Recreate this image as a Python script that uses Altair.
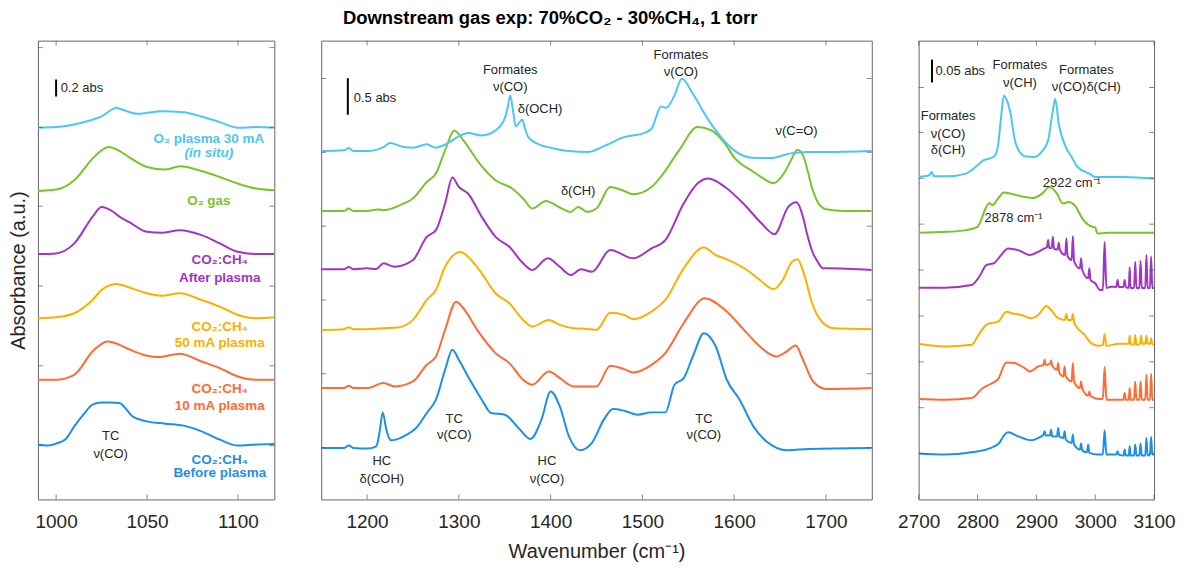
import altair as alt
import pandas as pd

FONT = "Liberation Sans"
TEXT_COLOR = "#262626"
SERIES = ["Before plasma", "10 mA plasma", "50 mA plasma", "After plasma", "O2 gas", "O2 plasma 30 mA"]
COLORS = ["#1E8FE6", "#FF6B35", "#F9B000", "#A035C4", "#78C42B", "#4CC6F6"]
Y_DOMAIN = [0, 460]  # stacked absorbance, arbitrary units

# ---------------- Left panel: 990-1120 cm-1 ----------------
L_BLUE = [(990, 55), (995, 54), (1000, 56), (1005, 60), (1010, 73.3), (1015, 85), (1020, 95), (1025, 97.3),
          (1030, 97.3), (1035, 96.7), (1038, 91.7), (1042, 83.3), (1050, 78.3), (1060, 76), (1070, 74),
          (1080, 68.3), (1090, 60), (1100, 54), (1110, 55), (1120, 55.5)]
L_ORANGE = [(990, 120), (1000, 120), (1010, 125), (1020, 148.3), (1025, 156), (1028, 158.3), (1035, 155),
            (1040, 150.7), (1050, 144), (1056, 142.7), (1068, 146), (1080, 138.3), (1090, 131.7), (1100, 123.3),
            (1110, 120), (1120, 120)]
L_YELLOW = [(990, 181.7), (1000, 182.7), (1010, 186.7), (1020, 200), (1025, 210), (1030, 215), (1033, 216),
            (1036, 215), (1040, 212.7), (1050, 206.7), (1058, 204.3), (1068, 206.7), (1080, 200), (1090, 193.3),
            (1100, 185), (1110, 181.7), (1120, 182.7)]
L_PURPLE = [(990, 246), (1000, 246.7), (1010, 256.7), (1020, 283.3), (1025, 293.3), (1030, 290), (1035, 283.3),
            (1040, 278.3), (1050, 268.3), (1058, 267.3), (1068, 270), (1080, 265), (1090, 256.7), (1100, 248.3),
            (1110, 246), (1120, 246)]
L_GREEN = [(990, 309.3), (1000, 310.7), (1010, 320), (1020, 341.7), (1025, 350), (1029, 353.3), (1035, 349.3),
           (1040, 343.3), (1050, 333.3), (1060, 330.7), (1068, 334), (1080, 329.3), (1090, 323.3), (1100, 316.7),
           (1110, 311.7), (1120, 310)]
L_LIGHTBLUE = [(990, 372.7), (1000, 373.3), (1010, 376), (1020, 380.7), (1025, 384), (1030, 390), (1033, 392.7),
               (1036, 391), (1045, 386.7), (1058, 389.3), (1070, 388.3), (1080, 384), (1090, 378.3), (1100, 372.7),
               (1110, 373.3), (1120, 372.7)]

# ---------------- Middle panel: 1150-1750 cm-1 ----------------
M_BLUE = [(1150, 51.7), (1175, 51.7), (1180, 54), (1185, 51.7), (1200, 51), (1210, 53.3), (1214, 70), (1217, 87.3),
          (1221, 70), (1226, 59.3), (1240, 63.3), (1255, 73.3), (1265, 86.7), (1275, 100), (1285, 130), (1293, 150),
          (1300, 140), (1310, 123.3), (1325, 100), (1335, 86.7), (1350, 85), (1365, 71.7), (1378, 60.7), (1390, 80),
          (1400, 108.3), (1410, 93.3), (1420, 63.3), (1432, 49.3), (1445, 56.7), (1458, 80), (1468, 90.7),
          (1480, 89), (1495, 85), (1510, 87.3), (1525, 87.3), (1535, 115), (1545, 121.7), (1555, 143.3),
          (1567, 166.7), (1580, 153.3), (1592, 120), (1606, 100), (1621, 73.3), (1635, 58.3), (1658, 49.3),
          (1681, 50.7), (1750, 51.7)]
M_ORANGE = [(1150, 111.7), (1175, 111.7), (1180, 114), (1185, 111.7), (1200, 111.7), (1218, 116.7), (1230, 113.3),
            (1250, 118.3), (1265, 135), (1275, 143.3), (1285, 170), (1297, 198.3), (1305, 191.7), (1320, 170),
            (1340, 146.7), (1355, 136.7), (1370, 120), (1380, 115), (1398, 128.3), (1410, 121.7), (1425, 113.3),
            (1450, 113.3), (1465, 134), (1480, 130.7), (1490, 127.3), (1510, 135), (1525, 146.7), (1545, 176.7),
            (1568, 201.7), (1590, 190), (1614, 166.7), (1628, 153.3), (1646, 143.3), (1657, 148.3), (1667, 154.3),
            (1675, 140), (1686, 118.3), (1701, 110.7), (1750, 111.7)]
M_YELLOW = [(1150, 170), (1175, 170.7), (1180, 172.7), (1185, 170.7), (1200, 170.7), (1218, 171.7), (1235, 172.7),
            (1250, 180), (1265, 200), (1275, 210), (1285, 233.3), (1302, 248), (1310, 243.3), (1325, 226.7),
            (1340, 206.7), (1355, 196.7), (1370, 180), (1380, 173.3), (1398, 180), (1410, 175), (1425, 171.7),
            (1440, 171), (1450, 170), (1465, 187.3), (1480, 185), (1490, 180.7), (1510, 188.3), (1525, 200),
            (1545, 231.7), (1567, 252.5), (1580, 245), (1592, 240.7), (1614, 230), (1628, 220), (1643, 210.7),
            (1653, 220), (1663, 238.3), (1669, 240.7), (1677, 223.3), (1685, 196.7), (1694, 180), (1708, 171.7),
            (1750, 170.7)]
M_PURPLE = [(1150, 230.7), (1175, 230.7), (1180, 233.3), (1185, 230.7), (1200, 231.7), (1210, 231), (1218, 236.7),
            (1230, 233.3), (1250, 240), (1265, 263.3), (1275, 270), (1285, 296.7), (1293, 322.7), (1300, 313.3),
            (1310, 306.7), (1325, 283.3), (1340, 263.3), (1355, 253.3), (1370, 236.7), (1380, 230), (1397, 241.7),
            (1410, 233.3), (1422, 225), (1433, 230.7), (1445, 228.3), (1465, 250), (1490, 241.7), (1510, 251.7),
            (1525, 260), (1545, 296.7), (1560, 316.7), (1572, 321.7), (1590, 313.3), (1610, 296.7), (1630, 276.7),
            (1644, 266), (1659, 293.3), (1668, 298), (1675, 283.3), (1679, 268), (1686, 246.7), (1690, 240),
            (1697, 231.7), (1701, 231.7), (1750, 230)]
M_GREEN = [(1150, 289.3), (1175, 289.3), (1180, 291.7), (1185, 289.3), (1200, 289.3), (1212, 290.7), (1218, 290),
           (1240, 296.7), (1250, 301.7), (1265, 318.3), (1275, 326.7), (1285, 350), (1295, 370), (1305, 360),
           (1320, 340), (1340, 320), (1358, 311.7), (1370, 301.7), (1380, 291.7), (1395, 299.3), (1410, 292.7),
           (1422, 288.3), (1430, 293.3), (1440, 288.3), (1450, 291.7), (1465, 313.3), (1480, 309.3), (1490, 306),
           (1510, 313.3), (1520, 323.3), (1540, 350), (1560, 373.3), (1575, 370), (1590, 356.7), (1600, 343),
           (1620, 329), (1630, 323), (1643, 317), (1655, 328), (1662, 340), (1669, 350.7), (1675, 345), (1680, 330),
           (1685, 312), (1690, 300), (1700, 291), (1720, 289.3), (1750, 289.3)]
M_LIGHTBLUE = [(1150, 349.3), (1175, 350), (1180, 352.3), (1185, 349.3), (1200, 349.3), (1218, 353.3), (1225, 357.3),
               (1240, 353.3), (1250, 352.7), (1265, 356), (1275, 352.7), (1290, 358.3), (1300, 364), (1310, 367.3),
               (1325, 365), (1340, 370), (1350, 382), (1353, 392), (1356, 405), (1359, 390), (1362, 374), (1366, 378),
               (1369, 381), (1372, 372), (1376, 363), (1390, 355), (1400, 352.7), (1420, 349.3), (1440, 348.3),
               (1460, 355), (1480, 363.3), (1500, 366.7), (1510, 371.7), (1515, 383.3), (1520, 394), (1526, 392.7),
               (1535, 405), (1543, 421.7), (1555, 406.7), (1570, 383.3), (1580, 370), (1600, 350), (1620, 342.5),
               (1640, 342.3), (1660, 346.7), (1680, 348.3), (1700, 348.3), (1750, 349.3)]

# ---------------- Right panel: 2700-3100 cm-1 ----------------
R_BLUE = [(2700, 46), (2744, 45), (2790, 47.3), (2823, 51.7), (2837, 56.7), (2846, 65), (2852, 67.3), (2869, 63.3),
          (2891, 59.3), (2903, 61.7), (2912, 65), (2914, 68.3), (2916, 64), (2923, 64), (2925, 70), (2927, 63),
          (2935, 63), (2937, 71.7), (2939, 63), (2946, 61.7), (2948, 68.3), (2950, 60), (2960, 56.7), (2962, 65),
          (2964, 55), (2974, 50), (2976, 56), (2978, 49), (2986, 47.3), (2988, 55), (2990, 46.7), (3005, 45),
          (3013, 45), (3016, 69.3), (3019, 45), (3036, 45), (3038, 48.3), (3040, 45), (3048, 44), (3050, 50),
          (3052, 44), (3057, 44), (3058.6, 53.3), (3060, 44), (3066, 44), (3068, 55), (3070, 44), (3075, 44),
          (3077, 56), (3079, 44), (3085, 44), (3087, 61.7), (3089, 44), (3093, 45), (3095, 62.7), (3097, 45),
          (3100, 45)]
R_ORANGE = [(2700, 100.7), (2744, 100), (2790, 101.7), (2809, 111.7), (2823, 116), (2835, 120.7), (2849, 137.3),
            (2863, 136.7), (2880, 131.7), (2889, 128.3), (2903, 133.3), (2912, 135), (2914, 140), (2916, 135),
            (2923, 136), (2925, 139.3), (2927, 134), (2935, 130), (2937, 136.7), (2939, 127), (2946, 123.3),
            (2948, 133.3), (2950, 123.3), (2960, 118.3), (2962, 136.7), (2964, 118), (2974, 111.7), (2976, 118.3),
            (2978, 111), (2988, 104), (2990, 108.3), (2992, 104), (3005, 100.7), (3013, 100.7), (3016, 132.7),
            (3019, 100), (3048, 100), (3050, 106.7), (3052, 100), (3057, 100), (3058.6, 111.7), (3060, 100),
            (3066, 100), (3068, 118.3), (3070, 100), (3075, 100), (3077, 118.3), (3079, 100), (3085, 100),
            (3087, 125), (3089, 100), (3093, 100), (3095, 126), (3097, 100), (3100, 100)]
R_YELLOW = [(2700, 156), (2744, 153.3), (2790, 155), (2800, 163.3), (2815, 175), (2823, 176.7), (2835, 178.3),
            (2849, 188.3), (2858, 186.7), (2874, 185), (2891, 181.7), (2903, 185), (2917, 194), (2925, 190),
            (2937, 181.7), (2948, 180), (2951, 186), (2953, 180), (2960, 180), (2962, 186), (2964, 178),
            (2968, 173.3), (2982, 165), (2993, 156.7), (3005, 154), (3013, 155), (3016, 166), (3019, 154),
            (3040, 156), (3057, 156), (3058.6, 164), (3060, 156), (3066, 155), (3068, 165), (3070, 155), (3076, 156),
            (3078, 164), (3080, 156), (3085, 156), (3087, 164), (3089, 156), (3093, 156), (3095, 161.7), (3097, 156),
            (3100, 155)]
R_PURPLE = [(2700, 212.3), (2744, 212.3), (2790, 215), (2803, 223.3), (2815, 235), (2829, 237.3), (2840, 245),
            (2852, 251.7), (2869, 250), (2889, 245), (2903, 248.3), (2914, 251.7), (2918, 253), (2920, 260),
            (2922, 252), (2926, 252), (2928, 263.3), (2930, 251), (2936, 250.7), (2938, 257.3), (2940, 250),
            (2949, 245), (2951, 261.7), (2953, 244), (2960, 240), (2962, 264), (2964, 239), (2974, 231.7),
            (2976, 241.7), (2978, 230), (2988, 221.7), (2990, 231.7), (2992, 220), (3000, 216.7), (3008, 210),
            (3013, 210), (3016, 258.3), (3019, 212), (3027, 213.3), (3036, 213), (3038, 220), (3040, 213),
            (3048, 213), (3050, 220), (3052, 213), (3057, 212), (3058.6, 232.7), (3060, 212), (3066, 212),
            (3068, 238.3), (3070, 212), (3075, 212), (3077, 239.3), (3079, 212), (3085, 212), (3087, 245),
            (3089, 212), (3093, 212), (3095, 243.3), (3097, 212), (3100, 212)]
R_GREEN = [(2700, 267.3), (2750, 268.3), (2780, 270), (2800, 273.3), (2815, 293.3), (2820, 297.3), (2825, 295),
           (2835, 301.7), (2845, 307.7), (2860, 306), (2880, 303.3), (2895, 302.3), (2910, 306.7), (2922, 313.3),
           (2935, 306.7), (2945, 296.7), (2955, 298.3), (2965, 295), (2980, 280), (2995, 273.3), (3000, 272.7),
           (3004, 266.7), (3020, 267.3), (3100, 267.3)]
R_LIGHTBLUE = [(2700, 323.3), (2710, 324), (2718, 325), (2722, 328.3), (2726, 324), (2750, 324), (2780, 326.7),
               (2800, 335), (2810, 340), (2820, 341.7), (2830, 345), (2836, 360), (2840, 383.3), (2845, 405),
               (2850, 400), (2855, 390), (2865, 356.7), (2880, 344), (2895, 343.3), (2910, 349.3), (2920, 360),
               (2928, 390), (2932, 401.7), (2938, 376.7), (2950, 353.3), (2960, 343.3), (2970, 333.3), (2990, 326.7),
               (3000, 323.3), (3050, 323.3), (3100, 321.7)]

# ---------------- axes ----------------
L_XTICKS = [1000, 1050, 1100]
M_XTICKS = [1200, 1300, 1400, 1500, 1600, 1700]
R_XTICKS = [2700, 2800, 2900, 3000, 3100]
L_YTICKS = [54, 134, 214, 294, 373, 453]
M_YTICKS = [52, 126, 200, 274, 348, 422]
R_YTICKS = [46, 92, 138, 184, 230, 276, 322, 368, 413]

# ---------------- annotations ----------------
L_LABELS = [(1084, 361.7, "O₂ plasma 30 mA", "O2 plasma 30 mA"), (1084, 299.3, "O₂ gas", "O2 gas"),
            (1090, 240, "CO₂:CH₄", "After plasma"), (1090, 221.7, "After plasma", "After plasma"),
            (1090, 173.3, "CO₂:CH₄", "50 mA plasma"), (1090, 157.3, "50 mA plasma", "50 mA plasma"),
            (1090, 110.7, "CO₂:CH₄", "10 mA plasma"), (1090, 94, "10 mA plasma", "10 mA plasma"),
            (1090, 40, "CO₂:CH₄", "Before plasma"), (1090, 26.7, "Before plasma", "Before plasma")]
L_ITALIC = [(1084, 347.3, "(in situ)", "O2 plasma 30 mA")]
L_ANNOT = [(1030, 64, "TC"), (1030, 46, "ν(CO)")]
M_ANNOT = [(1356, 430.7, "Formates"), (1356, 413.3, "ν(CO)"), (1388.5, 391, "δ(OCH)"),
           (1542, 445.7, "Formates"), (1542, 428.3, "ν(CO)"), (1430, 309, "δ(CH)"), (1668, 369, "ν(C=O)"),
           (1295, 81, "TC"), (1295, 64.3, "ν(CO)"), (1216, 39, "HC"), (1216, 20.7, "δ(COH)"),
           (1396, 39, "HC"), (1396, 20.7, "ν(CO)"), (1567, 81, "TC"), (1567, 64.3, "ν(CO)")]
R_ANNOT = [(2872, 435.7, "Formates"), (2872, 417.7, "ν(CH)"), (2985, 430.7, "Formates"),
           (2985, 413.3, "ν(CO)δ(CH)"), (2750, 384, "Formates"), (2750, 366, "ν(CO)"), (2750, 350, "δ(CH)")]
R_LEFT_ANNOT = [(2911, 317.7, "2922 cm⁻¹"), (2812, 281.7, "2878 cm⁻¹")]
L_BAR = (1000, 404, 421, 1002.5, 412, "0.2 abs")
M_BAR = (1179, 385.7, 422.3, 1185.5, 402.3, "0.5 abs")
R_BAR = (2722.7, 418, 441, 2728.4, 429.3, "0.05 abs")

COLOR = alt.Color("series:N", scale=alt.Scale(domain=SERIES, range=COLORS), legend=None)


def panel(series_lists, xdom, xticks, yticks, width, bar, annots, left_annots, labels, italic, ytitle, xtitle):
    rows = []
    for name, pairs in zip(SERIES, series_lists):
        for i, (w, a) in enumerate(pairs):
            rows.append({"series": name, "wn": w, "a": a, "i": i})
    df = pd.DataFrame(rows)

    xs = alt.Scale(domain=xdom, nice=False, zero=False)
    ys = alt.Scale(domain=Y_DOMAIN, nice=False, zero=False)
    xaxis = alt.Axis(values=xticks, ticks=False, tickSize=0, domain=False, grid=False, labelFontSize=19,
                     labelPadding=13, labelColor=TEXT_COLOR, labelFont=FONT, format="d", labelOverlap=False,
                     labelFlush=False, titleFontSize=20, titlePadding=10, titleColor=TEXT_COLOR, titleFont=FONT,
                     titleFontWeight="normal")
    X = alt.X("wn:Q", scale=xs, axis=xaxis, title=xtitle)
    if ytitle:
        yaxis = alt.Axis(labels=False, ticks=False, tickSize=0, domain=False, grid=False, titleFontSize=20,
                         titlePadding=9, titleColor=TEXT_COLOR, titleFont=FONT, titleFontWeight="normal")
        Y = alt.Y("a:Q", scale=ys, axis=yaxis, title=ytitle)
    else:
        Y = alt.Y("a:Q", scale=ys, axis=None)

    layers = [alt.Chart(df).mark_line(strokeWidth=2, clip=True, interpolate="monotone").encode(
        x=X, y=Y, color=COLOR, detail="series:N", order="i:Q")]
    ydf = pd.DataFrame({"a": yticks})
    xdf = pd.DataFrame({"wn": xticks})
    tick = dict(thickness=1, size=5, color="#555555")
    layers.append(alt.Chart(ydf).mark_tick(orient="horizontal", **tick).encode(y=Y, x=alt.value(2.5)))
    layers.append(alt.Chart(ydf).mark_tick(orient="horizontal", **tick).encode(y=Y, x=alt.value(width - 2.5)))
    layers.append(alt.Chart(xdf).mark_tick(orient="vertical", **tick).encode(x=X, y=alt.value(2.5)))
    layers.append(alt.Chart(xdf).mark_tick(orient="vertical", **tick).encode(x=X, y=alt.value(460 - 2.5)))

    bdf = pd.DataFrame({"wn": [bar[0]], "a": [bar[1]], "a2": [bar[2]]})
    layers.append(alt.Chart(bdf).mark_rule(strokeWidth=2, color="black").encode(x=X, y=Y, y2="a2:Q"))
    btdf = pd.DataFrame({"wn": [bar[3]], "a": [bar[4]], "t": [bar[5]]})
    txt = dict(font=FONT, fontSize=13, color=TEXT_COLOR, baseline="middle")
    layers.append(alt.Chart(btdf).mark_text(align="left", **txt).encode(x=X, y=Y, text="t:N"))

    if annots:
        adf = pd.DataFrame(annots, columns=["wn", "a", "t"])
        layers.append(alt.Chart(adf).mark_text(align="center", **txt).encode(x=X, y=Y, text="t:N"))
    if left_annots:
        ldf = pd.DataFrame(left_annots, columns=["wn", "a", "t"])
        layers.append(alt.Chart(ldf).mark_text(align="left", **txt).encode(x=X, y=Y, text="t:N"))
    lab = dict(font=FONT, fontSize=13.5, fontWeight="bold", baseline="middle", align="center")
    if labels:
        labdf = pd.DataFrame(labels, columns=["wn", "a", "t", "series"])
        layers.append(alt.Chart(labdf).mark_text(**lab).encode(x=X, y=Y, text="t:N", color=COLOR))
    if italic:
        idf = pd.DataFrame(italic, columns=["wn", "a", "t", "series"])
        layers.append(alt.Chart(idf).mark_text(fontStyle="italic", **lab).encode(x=X, y=Y, text="t:N",
                                                                                 color=COLOR))
    return alt.layer(*layers).properties(width=width, height=460)


left = panel([L_BLUE, L_ORANGE, L_YELLOW, L_PURPLE, L_GREEN, L_LIGHTBLUE], [990, 1120], L_XTICKS, L_YTICKS, 237,
             L_BAR, L_ANNOT, None, L_LABELS, L_ITALIC, "Absorbance (a.u.)", None)
middle = panel([M_BLUE, M_ORANGE, M_YELLOW, M_PURPLE, M_GREEN, M_LIGHTBLUE], [1150, 1750], M_XTICKS, M_YTICKS, 552,
               M_BAR, M_ANNOT, None, None, None, None, "Wavenumber (cm⁻¹)")
right = panel([R_BLUE, R_ORANGE, R_YELLOW, R_PURPLE, R_GREEN, R_LIGHTBLUE], [2700, 3100], R_XTICKS, R_YTICKS, 236,
              R_BAR, R_ANNOT, R_LEFT_ANNOT, None, None, None, None)

chart = alt.hconcat(left, middle, right, spacing=47, bounds="flush").properties(
    title=alt.TitleParams("Downstream gas exp: 70%CO₂ - 30%CH₄, 1 torr", fontSize=18.5, fontWeight="bold",
                          font=FONT, color="black", anchor="middle", offset=13, dx=-42),
    padding={"left": 0, "top": 0, "right": 5, "bottom": 0},
).configure_view(stroke="#666666", strokeWidth=1)

chart.save("out.html", embed_options={"renderer": "svg", "actions": False})
